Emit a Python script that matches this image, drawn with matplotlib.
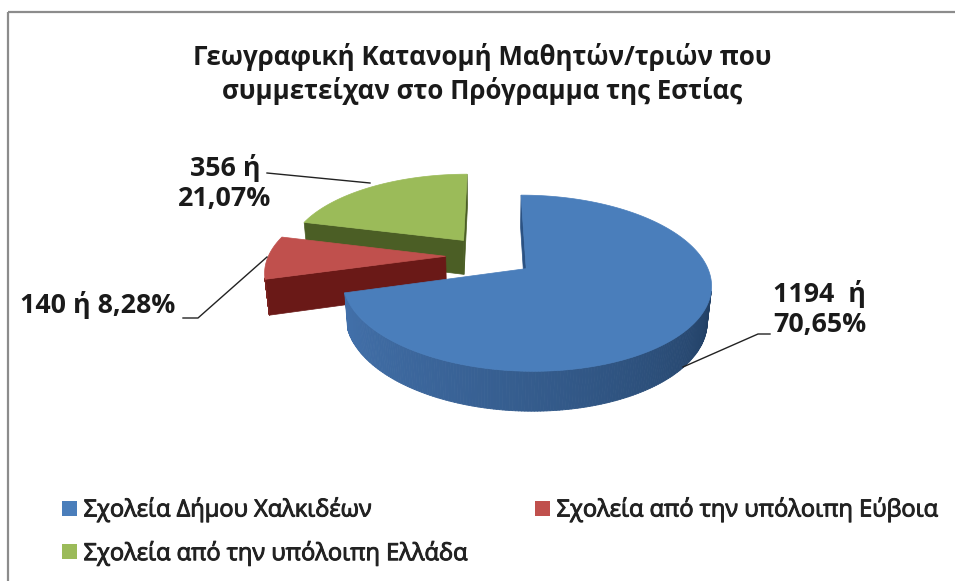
import numpy as np
import matplotlib.pyplot as plt
import matplotlib.patheffects as pe
from matplotlib.patches import Polygon, Patch, Rectangle
from matplotlib.collections import PolyCollection
from matplotlib.colors import to_rgb

plt.rcParams['font.family'] = ['Open Sans', 'DejaVu Sans']

title = 'Γεωγραφική Κατανομή Μαθητών/τριών που\nσυμμετείχαν στο Πρόγραμμα της Εστίας'
categories = ['Σχολεία Δήμου Χαλκιδέων',
              'Σχολεία από την υπόλοιπη Εύβοια',
              'Σχολεία από την υπόλοιπη Ελλάδα']
counts = [1194, 140, 356]
label_sep = ['  ή\n', ' ή ', ' ή\n']
explode = [0.25, 0.25, 0.25]
top_colors = ['#4A7EBB', '#C0504D', '#9BBB59']
side_light = ['#4473AE', '#7A2320', '#56692B']
side_dark = ['#1E3A5C', '#5E1513', '#435420']
face_colors = ['#2B5283', '#6A1917', '#4B5E25']

total = sum(counts)
pcts = [100.0 * c / total for c in counts]
labels = [f'{c}{s}{p:.2f}%'.replace('.', ',') for c, s, p in zip(counts, label_sep, pcts)]

# simple perspective camera for the 3d pie (pixels)
CX, CY = 490, 256
FOC, DIST = 975.0, 5.5
SPHI = 0.46
CPHI = np.sqrt(1 - SPHI ** 2)
H = 0.225  # pie thickness
CAM = np.array([0.0, -DIST * CPHI, DIST * SPHI])


def proj(X, Y, Z):
    X, Y, Z = np.asarray(X, float), np.asarray(Y, float), np.asarray(Z, float)
    d = Y * CPHI - Z * SPHI + DIST
    return CX + FOC * X / d, CY - FOC * (Y * SPHI + Z * CPHI) / d


fig = plt.figure(figsize=(9.55, 5.81), dpi=100)
ax = fig.add_axes([0, 0, 1, 1])
ax.set_xlim(0, 955)
ax.set_ylim(581, 0)
ax.axis('off')

# chart border
ax.add_patch(Rectangle((8, 12), 1000, 1000, fill=False, ec='#8c8c8c', lw=1.6))

slices = []
start = np.pi / 2
for i, c in enumerate(counts):
    a1 = start
    a0 = start - 2 * np.pi * c / total
    start = a0
    mid = (a0 + a1) / 2
    ox, oy = explode[i] * np.cos(mid), explode[i] * np.sin(mid)
    t = np.linspace(a0, a1, 300)
    xs, ys = proj(ox + np.cos(t), oy + np.sin(t), 0 * t)
    slices.append(dict(i=i, a0=a0, a1=a1, ox=ox, oy=oy, t=t, xs=xs, ys=ys, front=ys.max()))

# back to front
for s in sorted(slices, key=lambda d: d['front']):
    i, ox, oy, t = s['i'], s['ox'], s['oy'], s['t']
    cen = np.array([ox, oy, 0.0])
    # radial faces facing the camera
    for a, nrm in ((s['a0'], s['a0'] - np.pi / 2), (s['a1'], s['a1'] + np.pi / 2)):
        n = np.array([np.cos(nrm), np.sin(nrm), 0.0])
        if np.dot(CAM - cen, n) > 0:
            X = [ox, ox + np.cos(a), ox + np.cos(a), ox]
            Y = [oy, oy + np.sin(a), oy + np.sin(a), oy]
            px, py = proj(X, Y, [0, 0, -H, -H])
            ax.add_patch(Polygon(np.column_stack([px, py]), closed=True,
                                 fc=face_colors[i], ec=face_colors[i], lw=0.5))
    # outer curved wall
    X, Y = ox + np.cos(t), oy + np.sin(t)
    bx, by = proj(X, Y, -H + 0 * t)
    xs, ys = s['xs'], s['ys']
    lo, hi = np.array(to_rgb(side_light[i])), np.array(to_rgb(side_dark[i]))
    quads, cols = [], []
    for k in range(len(t) - 1):
        tm = (t[k] + t[k + 1]) / 2
        P = np.array([ox + np.cos(tm), oy + np.sin(tm), 0.0])
        n = np.array([np.cos(tm), np.sin(tm), 0.0])
        if np.dot(CAM - P, n) > 0:
            a = np.mod(tm, 2 * np.pi)
            f = np.clip((a - np.pi) / np.pi, 0, 1) ** 1.3
            quads.append([(xs[k], ys[k]), (xs[k + 1], ys[k + 1]),
                          (bx[k + 1], by[k + 1]), (bx[k], by[k])])
            cols.append(lo * (1 - f) + hi * f)
    if quads:
        ax.add_collection(PolyCollection(quads, facecolors=cols, edgecolors=cols, linewidths=0.6))
    # top face
    cx, cy = proj(ox, oy, 0)
    ax.add_patch(Polygon(np.vstack([[cx, cy], np.column_stack([xs, ys])]), closed=True,
                         fc=top_colors[i], ec=top_colors[i], lw=0.5))

# data labels with leader lines
lab_font = dict(fontsize=19.3, fontweight='bold', color='#1a1a1a')
ax.text(773, 309, labels[0], ha='left', va='center', linespacing=1.2, **lab_font)
ax.plot([770, 758, 683], [334, 334, 367], color='#222222', lw=1)
ax.text(20, 305, labels[1], ha='left', va='center', **lab_font)
ax.plot([183, 198, 267], [318, 318, 257], color='#222222', lw=1)
ax.text(225, 183, labels[2], ha='center', va='center', multialignment='center',
        linespacing=1.2, **lab_font)
ax.plot([267, 370], [173, 183], color='#222222', lw=1)

ax.text(482, 74, title, ha='center', va='center', fontsize=18.6, fontweight='bold',
        color='#1a1a1a', linespacing=1.25)

# legend: row 1 blue, red; row 2 green
order = [0, 2, 1]
handles = [Patch(fc=top_colors[k], ec='none') for k in order]
leg = ax.legend(handles, [categories[k] for k in order], ncol=2, loc='upper left',
                bbox_to_anchor=(53, 487), bbox_transform=ax.transData, frameon=False,
                prop=dict(size=17), handlelength=0.6, handleheight=0.6,
                handletextpad=0.3, columnspacing=2.9, labelspacing=0.75, borderaxespad=0)
for txt in leg.get_texts():
    txt.set_color('#222222')
    txt.set_path_effects([pe.withStroke(linewidth=0.7, foreground='#222222')])

fig.savefig('out.png', dpi=100, facecolor='white')
